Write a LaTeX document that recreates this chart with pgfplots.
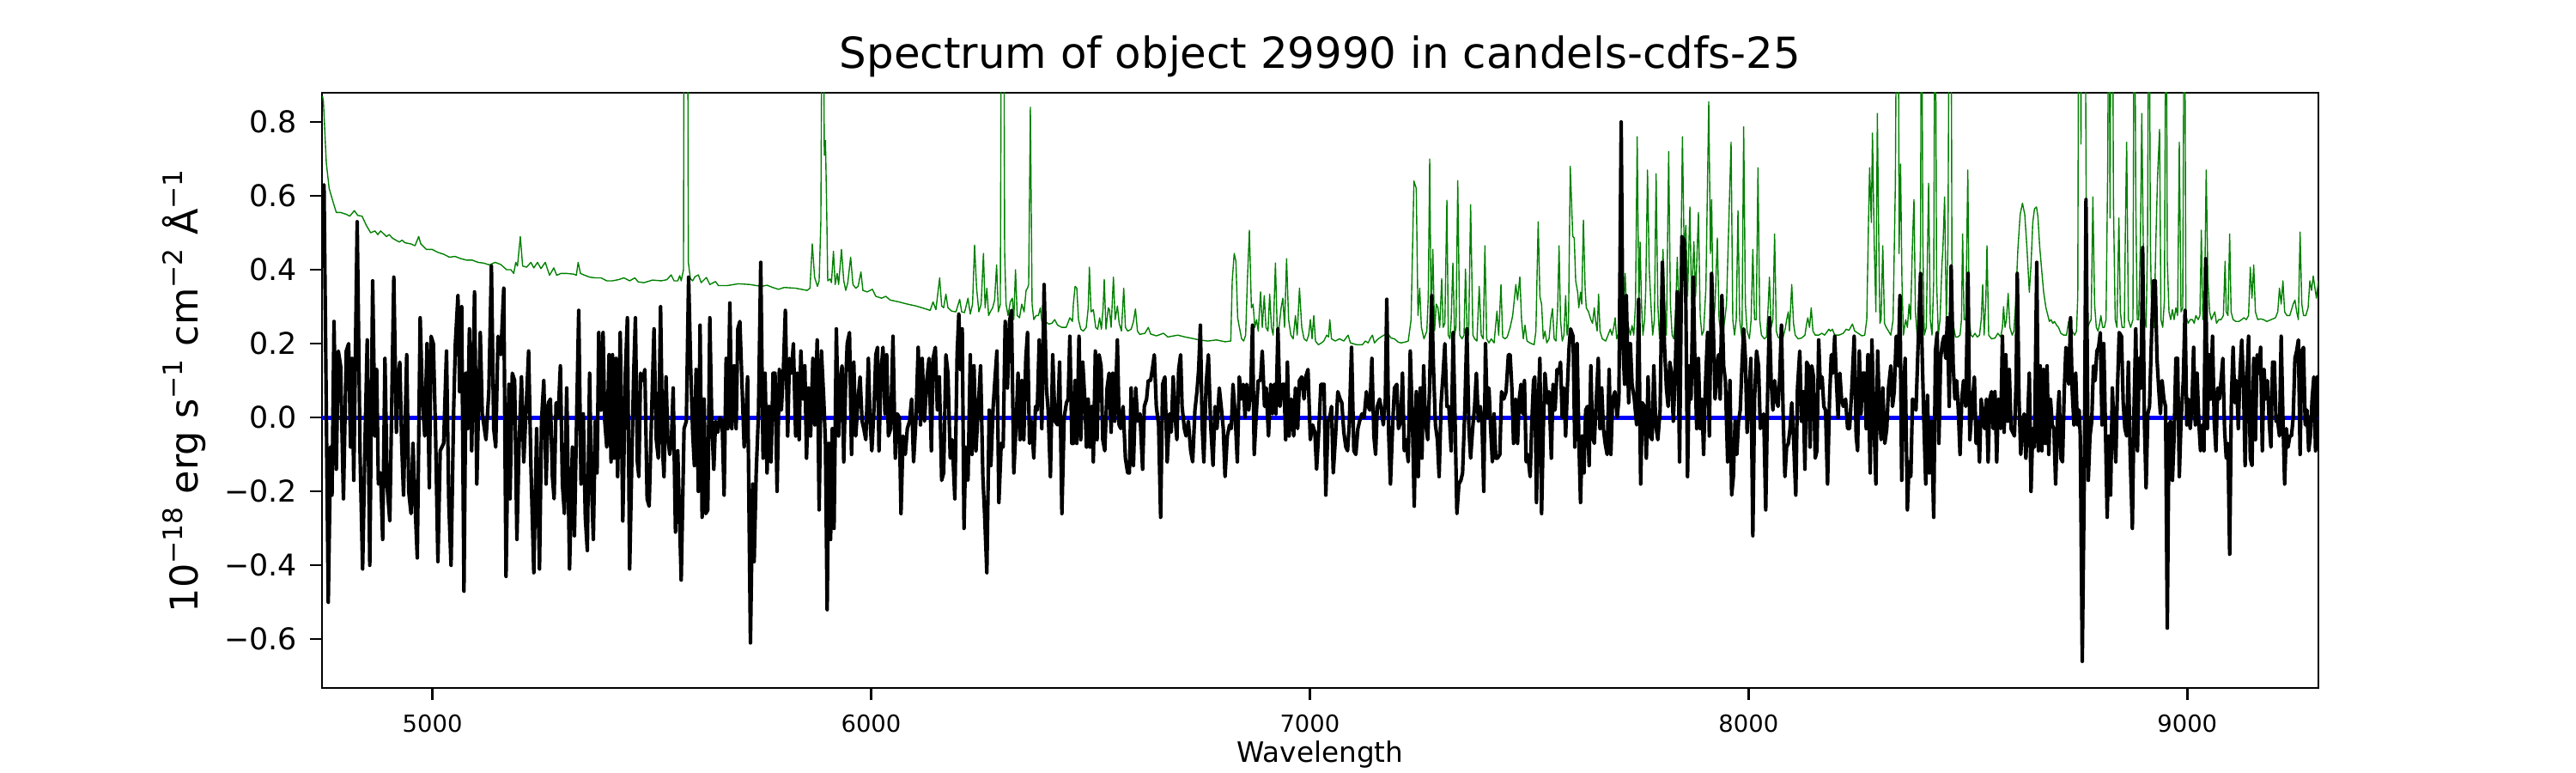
\documentclass[border=0pt]{standalone}
\usepackage{fontspec}
\setmainfont{DejaVu Sans}
\usepackage{pgfplots}
\usepackage{pgfplotstable}
\pgfplotsset{compat=1.18}
\definecolor{mplgreen}{RGB}{0,128,0}
\definecolor{mplblue}{RGB}{0,0,255}

\pgfplotstableread[row sep=\\]{
x y\\
4749.5 0.58\\ 4752.9 0.63\\ 4762.6 -0.50\\ 4767.9 -0.08\\ 4771.1 -0.21\\ 4775.7 0.26\\ 4780.9 -0.14\\ 4785.5 0.18\\ 4790.7 0.14\\ 4797.2 -0.22\\
4803.7 0.18\\ 4809.0 0.20\\ 4813.5 -0.08\\ 4816.8 0.16\\ 4820.7 -0.17\\ 4828.5 0.53\\ 4835.1 -0.10\\ 4840.9 -0.41\\ 4846.1 -0.08\\ 4851.4 0.21\\
4857.2 -0.40\\ 4863.8 0.37\\ 4869.0 -0.05\\ 4872.9 0.13\\ 4876.8 -0.18\\ 4882.0 -0.15\\ 4886.6 -0.33\\ 4891.8 0.16\\ 4897.0 -0.19\\ 4902.9 -0.28\\
4912.0 0.38\\ 4917.9 -0.04\\ 4921.2 0.10\\ 4925.7 0.15\\ 4929.7 -0.06\\ 4934.2 -0.21\\ 4941.4 0.17\\ 4946.0 -0.20\\ 4951.2 -0.26\\ 4955.7 -0.07\\
4960.3 -0.23\\ 4965.5 -0.38\\ 4972.1 0.27\\ 4977.3 0.05\\ 4982.5 -0.05\\ 4987.7 0.20\\ 4992.9 -0.19\\ 4996.9 0.22\\ 5002.1 0.20\\ 5007.3 -0.05\\
5012.5 -0.39\\ 5017.7 -0.09\\ 5025.6 -0.07\\ 5032.1 0.18\\ 5037.3 -0.23\\ 5042.5 -0.40\\ 5048.4 0.02\\ 5052.3 0.20\\ 5058.2 0.33\\ 5062.1 0.07\\
5066.7 0.30\\ 5071.9 -0.47\\ 5076.4 0.12\\ 5080.4 -0.03\\ 5084.3 0.24\\ 5089.5 -0.09\\ 5096.0 0.34\\ 5101.2 -0.18\\ 5105.1 0.03\\ 5109.1 0.23\\
5113.6 0.01\\ 5122.1 -0.06\\ 5128.6 0.07\\ 5134.5 0.41\\ 5139.7 -0.03\\ 5144.3 -0.08\\ 5149.5 0.22\\ 5156.0 0.17\\ 5162.6 0.35\\ 5167.8 -0.43\\
5174.3 0.09\\ 5176.9 -0.22\\ 5182.1 0.12\\ 5187.4 0.10\\ 5192.6 -0.33\\ 5197.1 -0.09\\ 5203.0 0.11\\ 5208.2 -0.12\\ 5213.4 0.02\\ 5219.3 0.18\\
5224.5 -0.13\\ 5231.1 -0.42\\ 5237.6 -0.03\\ 5244.1 -0.41\\ 5248.7 -0.01\\ 5253.9 0.10\\ 5259.1 -0.18\\ 5264.3 0.04\\ 5268.9 0.05\\ 5273.5 -0.16\\
5277.4 -0.22\\ 5281.9 0.04\\ 5286.5 0.00\\ 5291.7 0.14\\ 5296.3 -0.18\\ 5300.9 -0.26\\ 5306.1 0.08\\ 5312.6 -0.41\\ 5319.1 -0.08\\ 5323.7 -0.32\\
5328.9 0.01\\ 5333.5 0.29\\ 5338.7 -0.18\\ 5343.9 0.01\\ 5348.5 -0.27\\ 5353.1 -0.36\\ 5358.3 0.12\\ 5362.2 -0.16\\ 5366.8 -0.33\\ 5371.3 -0.01\\
5375.3 -0.15\\ 5379.2 0.23\\ 5384.4 0.02\\ 5389.0 0.23\\ 5392.9 -0.01\\ 5397.4 -0.08\\ 5402.7 0.17\\ 5407.2 -0.12\\ 5410.5 0.17\\ 5414.4 -0.11\\
5418.3 0.16\\ 5422.2 -0.16\\ 5428.1 0.23\\ 5434.0 -0.28\\ 5439.8 0.12\\ 5444.4 0.27\\ 5449.6 -0.41\\ 5454.8 -0.10\\ 5458.8 0.12\\ 5462.7 0.27\\
5467.2 -0.12\\ 5470.5 -0.16\\ 5474.4 0.12\\ 5479.6 0.10\\ 5484.2 0.13\\ 5489.4 -0.22\\ 5494.0 -0.24\\ 5499.2 -0.01\\ 5505.1 0.24\\ 5510.3 -0.06\\
5514.9 -0.11\\ 5520.1 0.30\\ 5524.7 -0.09\\ 5527.9 -0.16\\ 5532.5 0.11\\ 5536.4 -0.05\\ 5541.0 -0.10\\ 5544.9 -0.06\\ 5548.8 0.08\\ 5554.0 -0.31\\
5559.2 -0.09\\ 5567.1 -0.44\\ 5573.6 -0.03\\ 5578.8 -0.01\\ 5584.0 0.38\\ 5588.6 0.14\\ 5593.2 -0.04\\ 5597.1 -0.13\\ 5601.0 0.13\\ 5606.2 -0.20\\
5610.1 0.25\\ 5614.7 -0.27\\ 5619.3 0.05\\ 5623.2 -0.26\\ 5627.7 -0.25\\ 5632.3 0.27\\ 5636.9 -0.02\\ 5641.4 -0.14\\ 5645.3 -0.01\\ 5650.6 -0.04\\
5655.1 0.00\\ 5660.4 -0.01\\ 5664.9 -0.21\\ 5669.5 0.16\\ 5673.4 -0.03\\ 5678.0 0.31\\ 5682.5 -0.03\\ 5687.8 0.14\\ 5692.3 -0.03\\ 5696.2 0.24\\
5700.8 0.26\\ 5705.4 0.10\\ 5710.6 -0.08\\ 5714.5 0.00\\ 5718.4 0.11\\ 5724.9 -0.61\\ 5730.2 -0.18\\ 5733.4 -0.39\\ 5738.0 -0.15\\ 5743.2 0.01\\
5748.4 0.42\\ 5753.7 -0.11\\ 5758.2 0.12\\ 5762.8 -0.15\\ 5767.3 0.03\\ 5771.9 -0.12\\ 5776.5 0.12\\ 5781.0 0.12\\ 5785.6 -0.20\\ 5790.8 0.13\\
5795.4 0.02\\ 5800.0 0.13\\ 5804.5 0.29\\ 5809.8 -0.05\\ 5813.7 0.16\\ 5818.2 0.12\\ 5822.8 0.20\\ 5828.0 -0.05\\ 5831.9 0.12\\ 5835.9 -0.06\\
5839.8 0.18\\ 5844.3 0.05\\ 5848.9 0.14\\ 5852.8 -0.11\\ 5857.4 0.08\\ 5862.0 -0.05\\ 5867.2 0.16\\ 5871.7 -0.02\\ 5877.0 0.21\\ 5881.5 -0.25\\
5886.7 0.18\\ 5892.0 0.05\\ 5895.9 -0.07\\ 5899.8 -0.52\\ 5903.7 -0.07\\ 5907.6 -0.33\\ 5911.5 -0.03\\ 5915.5 -0.30\\ 5920.7 0.24\\ 5925.9 -0.05\\
5929.8 0.10\\ 5933.7 0.14\\ 5937.6 -0.12\\ 5941.6 0.08\\ 5945.5 0.20\\ 5950.7 0.23\\ 5955.3 -0.10\\ 5960.5 0.15\\ 5965.0 -0.05\\ 5970.3 0.05\\
5974.8 0.11\\ 5979.4 -0.01\\ 5983.3 -0.03\\ 5987.9 -0.06\\ 5993.7 0.16\\ 5997.7 -0.01\\ 6001.6 -0.09\\ 6006.8 0.03\\ 6010.7 0.17\\ 6014.6 0.19\\
6017.9 -0.09\\ 6022.4 0.12\\ 6027.0 0.19\\ 6031.6 0.01\\ 6035.5 0.17\\ 6039.4 -0.05\\ 6044.6 -0.03\\ 6049.8 0.22\\ 6055.1 -0.11\\ 6059.6 0.01\\
6064.2 0.00\\ 6068.1 -0.26\\ 6072.7 -0.05\\ 6077.9 -0.10\\ 6082.5 -0.03\\ 6087.7 -0.01\\ 6092.3 0.05\\ 6096.8 -0.12\\ 6102.0 -0.01\\ 6107.3 0.19\\
6112.5 -0.02\\ 6116.4 0.16\\ 6121.6 -0.01\\ 6126.8 0.10\\ 6132.0 0.16\\ 6137.3 -0.09\\ 6141.2 0.16\\ 6146.4 0.19\\ 6151.0 0.02\\ 6155.5 0.11\\
6160.8 -0.17\\ 6165.3 -0.15\\ 6170.5 0.17\\ 6175.1 0.12\\ 6180.3 -0.11\\ 6184.9 -0.06\\ 6190.8 -0.22\\ 6196.0 0.17\\ 6199.9 0.28\\ 6203.8 0.13\\
6207.7 0.24\\ 6211.7 -0.30\\ 6215.6 -0.08\\ 6220.8 -0.17\\ 6226.0 0.17\\ 6229.9 -0.10\\ 6234.5 0.14\\ 6239.0 -0.09\\ 6244.3 0.03\\ 6249.5 0.14\\
6254.7 -0.16\\ 6258.6 -0.26\\ 6263.8 -0.42\\ 6269.1 0.02\\ 6273.0 -0.13\\ 6278.2 0.03\\ 6282.1 0.10\\ 6286.7 0.18\\ 6291.2 -0.23\\ 6296.5 -0.07\\
6301.0 -0.08\\ 6305.6 0.26\\ 6310.8 0.08\\ 6315.4 0.26\\ 6319.9 0.29\\ 6325.2 -0.15\\ 6330.4 -0.02\\ 6334.9 0.12\\ 6339.5 -0.06\\ 6343.4 0.10\\
6348.0 -0.06\\ 6352.6 0.16\\ 6356.5 0.23\\ 6361.0 -0.07\\ 6365.6 -0.01\\ 6370.8 -0.11\\ 6374.7 0.03\\ 6378.7 0.02\\ 6383.2 0.21\\ 6389.1 -0.03\\
6394.3 0.36\\ 6399.6 0.08\\ 6403.5 0.02\\ 6408.7 -0.16\\ 6413.9 0.17\\ 6419.1 -0.01\\ 6425.0 -0.02\\ 6429.6 0.15\\ 6434.8 -0.26\\ 6440.0 0.00\\
6445.2 0.04\\ 6449.1 0.05\\ 6453.0 0.22\\ 6457.6 -0.07\\ 6460.9 -0.07\\ 6464.8 0.10\\ 6468.7 -0.07\\ 6473.9 0.22\\ 6477.8 -0.06\\ 6482.4 0.15\\
6487.0 0.05\\ 6490.9 -0.08\\ 6494.8 0.05\\ 6498.7 -0.08\\ 6503.3 0.03\\ 6506.5 -0.12\\ 6511.1 0.18\\ 6515.0 -0.06\\ 6519.6 0.17\\ 6524.2 0.14\\
6528.1 -0.06\\ 6532.6 -0.09\\ 6537.9 0.08\\ 6542.4 0.12\\ 6547.0 -0.04\\ 6550.9 0.12\\ 6555.5 -0.01\\ 6561.3 0.21\\ 6565.3 -0.02\\ 6569.2 -0.03\\
6574.4 0.03\\ 6579.6 -0.11\\ 6584.8 -0.15\\ 6588.7 -0.15\\ 6592.7 0.08\\ 6597.9 -0.13\\ 6603.1 0.08\\ 6607.7 -0.01\\ 6612.9 0.01\\ 6618.8 -0.14\\
6622.7 0.03\\ 6627.9 0.05\\ 6631.8 0.10\\ 6637.0 0.10\\ 6641.0 0.13\\ 6645.5 0.17\\ 6650.1 0.03\\ 6655.3 -0.02\\ 6659.9 -0.27\\ 6664.4 0.09\\
6669.6 0.11\\ 6674.9 -0.12\\ 6680.1 0.01\\ 6684.0 -0.04\\ 6688.6 0.11\\ 6693.1 0.00\\ 6697.0 -0.06\\ 6701.0 0.13\\ 6705.5 0.17\\ 6708.8 0.03\\
6714.0 -0.03\\ 6717.9 -0.05\\ 6723.1 -0.01\\ 6728.4 -0.09\\ 6732.9 -0.12\\ 6738.1 0.02\\ 6742.7 0.07\\ 6746.6 0.13\\ 6750.5 0.25\\ 6754.5 -0.02\\
6758.4 -0.12\\ 6763.6 0.09\\ 6768.8 0.17\\ 6774.0 -0.02\\ 6779.3 -0.13\\ 6783.8 0.03\\ 6788.4 -0.03\\ 6793.6 0.08\\ 6798.8 0.02\\ 6802.7 -0.03\\
6806.7 -0.16\\ 6811.9 -0.05\\ 6817.1 -0.02\\ 6821.0 -0.03\\ 6824.9 0.09\\ 6830.1 0.00\\ 6834.7 -0.12\\ 6839.3 0.11\\ 6844.5 0.05\\ 6848.4 0.09\\
6852.3 0.00\\ 6856.2 0.09\\ 6860.8 0.02\\ 6865.4 0.08\\ 6869.3 0.25\\ 6873.2 -0.10\\ 6878.4 0.02\\ 6882.3 0.10\\ 6887.6 0.10\\ 6891.5 0.18\\
6896.7 0.03\\ 6900.6 0.08\\ 6905.8 -0.05\\ 6911.0 0.09\\ 6915.0 0.01\\ 6918.9 0.09\\ 6922.8 0.01\\ 6927.3 0.24\\ 6931.9 0.03\\ 6937.1 0.09\\
6941.0 0.09\\ 6945.0 -0.06\\ 6948.9 0.15\\ 6952.8 -0.05\\ 6958.0 0.05\\ 6963.2 -0.05\\ 6967.1 0.08\\ 6972.4 -0.03\\ 6976.3 0.10\\ 6981.5 0.11\\
6986.7 0.05\\ 6990.6 0.11\\ 6995.8 0.13\\ 7001.1 -0.06\\ 7006.3 -0.02\\ 7011.5 -0.04\\ 7015.4 -0.14\\ 7020.6 -0.03\\ 7025.2 0.09\\ 7028.6 0.09\\
7032.5 0.09\\ 7036.4 -0.21\\ 7041.6 -0.01\\ 7045.5 0.00\\ 7049.4 0.03\\ 7053.4 -0.15\\ 7058.6 -0.05\\ 7063.8 0.07\\ 7069.0 0.05\\ 7072.9 0.04\\
7077.5 -0.04\\ 7082.1 -0.08\\ 7086.0 -0.09\\ 7089.9 -0.02\\ 7095.1 0.19\\ 7100.3 -0.09\\ 7104.9 -0.10\\ 7109.5 -0.03\\ 7113.4 -0.01\\ 7118.6 0.01\\
7123.8 0.00\\ 7129.0 0.07\\ 7133.0 0.03\\ 7136.9 0.02\\ 7141.4 0.16\\ 7146.0 -0.05\\ 7149.9 -0.10\\ 7153.8 0.03\\ 7159.1 0.05\\ 7163.0 0.02\\
7167.5 -0.02\\ 7172.1 0.05\\ 7175.4 0.32\\ 7179.9 -0.05\\ 7183.8 -0.18\\ 7189.1 -0.01\\ 7193.0 0.08\\ 7198.2 0.09\\ 7202.1 -0.03\\ 7207.3 -0.01\\
7211.2 0.12\\ 7215.2 -0.09\\ 7219.1 -0.06\\ 7224.3 -0.12\\ 7228.9 0.18\\ 7234.1 -0.02\\ 7238.0 -0.24\\ 7242.6 0.07\\ 7247.1 -0.16\\ 7251.7 0.08\\
7255.6 -0.11\\ 7259.5 0.14\\ 7263.4 -0.01\\ 7268.7 -0.06\\ 7272.6 0.07\\ 7277.8 0.33\\ 7281.7 0.14\\ 7286.3 -0.02\\ 7290.8 -0.06\\ 7294.7 -0.16\\
7299.3 0.04\\ 7303.9 0.12\\ 7307.8 0.20\\ 7312.4 0.03\\ 7316.9 0.03\\ 7322.2 -0.09\\ 7326.7 0.23\\ 7330.6 0.02\\ 7335.2 -0.26\\ 7339.8 -0.18\\
7344.3 -0.17\\ 7348.2 -0.15\\ 7353.5 0.03\\ 7358.0 0.24\\ 7362.6 -0.03\\ 7366.5 -0.11\\ 7371.1 -0.03\\ 7375.6 0.03\\ 7379.6 0.12\\ 7384.1 -0.01\\
7388.7 0.03\\ 7392.6 -0.02\\ 7396.5 -0.20\\ 7400.4 0.20\\ 7404.4 0.00\\ 7408.3 0.08\\ 7412.2 -0.03\\ 7416.1 -0.12\\ 7420.0 0.01\\ 7423.9 -0.11\\
7427.8 -0.11\\ 7433.1 -0.10\\ 7437.0 0.07\\ 7442.2 0.05\\ 7447.4 0.07\\ 7452.6 0.17\\ 7456.5 0.17\\ 7460.5 0.08\\ 7464.4 -0.07\\ 7468.9 0.05\\
7473.5 -0.07\\ 7477.4 0.05\\ 7481.3 0.09\\ 7485.3 0.01\\ 7489.2 0.10\\ 7493.1 -0.12\\ 7497.0 -0.10\\ 7502.2 -0.16\\ 7506.1 -0.01\\ 7510.0 0.10\\
7512.7 0.11\\ 7516.6 -0.23\\ 7521.1 0.05\\ 7524.4 0.16\\ 7528.3 -0.26\\ 7532.2 -0.03\\ 7536.1 0.12\\ 7540.7 0.04\\ 7545.3 0.07\\ 7550.5 -0.11\\
7554.4 0.09\\ 7559.0 0.02\\ 7563.5 0.13\\ 7567.5 0.12\\ 7571.4 0.15\\ 7575.3 0.00\\ 7579.2 0.08\\ 7583.1 -0.05\\ 7587.0 0.08\\ 7591.0 0.19\\
7594.2 0.24\\ 7600.1 0.22\\ 7604.0 -0.08\\ 7609.2 0.20\\ 7613.1 -0.05\\ 7617.0 -0.23\\ 7621.0 -0.05\\ 7624.9 -0.15\\ 7628.8 0.02\\ 7632.7 0.03\\
7636.6 -0.13\\ 7640.5 0.14\\ 7644.4 -0.05\\ 7648.4 -0.07\\ 7652.3 0.03\\ 7657.5 0.16\\ 7661.4 -0.03\\ 7665.3 0.08\\ 7669.2 -0.03\\ 7673.2 -0.07\\
7677.7 -0.10\\ 7682.3 0.13\\ 7686.2 -0.10\\ 7690.1 0.05\\ 7695.3 0.07\\ 7700.6 0.00\\ 7704.5 0.05\\ 7709.7 0.80\\ 7713.6 0.20\\ 7717.5 0.09\\
7721.4 0.33\\ 7726.7 0.04\\ 7730.6 0.20\\ 7734.5 0.09\\ 7739.7 0.05\\ 7744.9 -0.02\\ 7749.5 0.32\\ 7754.1 -0.18\\ 7758.0 0.04\\ 7762.5 0.03\\
7767.1 -0.11\\ 7771.0 0.11\\ 7774.9 -0.05\\ 7780.1 -0.06\\ 7784.1 0.14\\ 7788.6 -0.02\\ 7793.2 -0.06\\ 7798.4 0.02\\ 7803.6 0.42\\ 7808.2 0.20\\
7812.8 0.08\\ 7816.7 0.03\\ 7820.6 0.15\\ 7824.5 0.12\\ 7828.4 -0.01\\ 7832.3 0.10\\ 7837.6 0.34\\ 7842.8 -0.12\\ 7848.0 0.49\\ 7853.2 0.48\\
7857.1 0.31\\ 7861.0 -0.16\\ 7865.0 0.14\\ 7868.9 0.05\\ 7874.1 0.38\\ 7878.0 0.13\\ 7881.9 -0.03\\ 7885.8 0.16\\ 7889.8 -0.03\\ 7893.7 0.05\\
7897.6 -0.10\\ 7901.5 0.08\\ 7906.7 0.23\\ 7910.6 -0.05\\ 7915.8 0.39\\ 7919.8 0.24\\ 7923.7 0.05\\ 7927.6 0.12\\ 7931.5 0.17\\ 7935.4 0.05\\
7939.3 0.33\\ 7943.2 0.14\\ 7947.2 0.10\\ 7952.4 -0.12\\ 7957.6 0.10\\ 7961.5 -0.21\\ 7965.4 -0.16\\ 7969.3 -0.01\\ 7973.3 -0.10\\ 7977.2 -0.01\\
7981.1 0.02\\ 7985.0 0.14\\ 7988.9 0.24\\ 7992.8 0.16\\ 7996.7 -0.04\\ 8000.7 0.05\\ 8005.2 0.16\\ 8009.8 -0.32\\ 8013.7 0.05\\ 8018.3 0.18\\
8022.8 0.14\\ 8026.8 -0.03\\ 8030.7 -0.01\\ 8034.6 0.01\\ 8039.2 -0.25\\ 8043.7 0.08\\ 8047.6 0.27\\ 8051.5 0.10\\ 8055.5 0.02\\ 8059.4 0.10\\
8063.3 0.05\\ 8067.2 0.03\\ 8071.1 0.11\\ 8075.0 0.25\\ 8079.0 0.00\\ 8082.9 -0.16\\ 8086.8 -0.08\\ 8090.7 -0.07\\ 8094.6 -0.03\\ 8098.5 0.04\\
8102.4 -0.05\\ 8107.7 -0.21\\ 8111.6 0.08\\ 8116.8 0.18\\ 8120.7 -0.01\\ 8124.6 0.07\\ 8128.5 -0.14\\ 8132.5 0.15\\ 8136.4 0.14\\ 8140.3 -0.08\\
8144.2 0.14\\ 8148.1 0.11\\ 8152.0 -0.11\\ 8155.9 -0.09\\ 8159.9 0.21\\ 8163.8 0.08\\ 8167.7 0.11\\ 8171.6 0.03\\ 8175.5 0.02\\ 8180.1 -0.18\\
8184.6 0.05\\ 8188.6 0.17\\ 8192.5 0.12\\ 8196.4 0.22\\ 8200.3 0.10\\ 8204.2 0.00\\ 8208.1 0.12\\ 8212.0 0.05\\ 8216.0 0.03\\ 8221.2 0.05\\
8225.8 -0.03\\ 8230.3 -0.03\\ 8235.5 0.08\\ 8240.8 0.22\\ 8245.3 -0.05\\ 8248.6 -0.09\\ 8252.5 0.18\\ 8256.4 0.01\\ 8260.3 0.12\\ 8264.9 0.12\\
8268.2 -0.03\\ 8272.1 0.17\\ 8277.3 -0.15\\ 8281.2 0.21\\ 8286.4 -0.03\\ 8290.3 -0.18\\ 8294.3 0.18\\ 8298.2 0.02\\ 8302.1 -0.06\\ 8306.0 0.08\\
8310.6 -0.07\\ 8315.1 -0.03\\ 8319.0 0.08\\ 8324.3 0.14\\ 8328.2 0.03\\ 8332.1 0.07\\ 8336.7 0.22\\ 8341.2 0.14\\ 8345.1 0.33\\ 8349.1 -0.17\\
8353.0 0.05\\ 8356.9 0.16\\ 8362.1 -0.25\\ 8366.0 -0.12\\ 8369.9 -0.16\\ 8373.8 0.05\\ 8377.8 0.04\\ 8381.7 0.02\\ 8386.9 0.21\\ 8392.1 0.39\\
8396.0 0.16\\ 8399.9 -0.02\\ 8403.9 -0.18\\ 8407.8 0.06\\ 8411.7 -0.15\\ 8416.9 -0.01\\ 8422.1 -0.27\\ 8426.0 0.18\\ 8430.0 0.23\\ 8433.9 -0.07\\
8437.8 0.16\\ 8441.7 0.20\\ 8445.6 0.22\\ 8449.5 0.16\\ 8453.4 0.27\\ 8457.4 0.03\\ 8461.9 0.41\\ 8466.5 0.14\\ 8470.4 0.05\\ 8474.3 0.10\\
8478.2 0.02\\ 8482.1 -0.10\\ 8486.1 0.05\\ 8490.0 0.10\\ 8495.2 0.03\\ 8500.4 0.39\\ 8504.3 -0.06\\ 8509.5 0.03\\ 8514.8 0.11\\ 8518.7 -0.07\\
8522.6 -0.01\\ 8526.5 -0.12\\ 8530.4 0.05\\ 8534.3 0.00\\ 8538.2 -0.03\\ 8542.2 0.05\\ 8546.1 -0.12\\ 8550.0 0.05\\ 8553.9 0.07\\ 8557.8 -0.03\\
8561.7 0.07\\ 8565.7 -0.12\\ 8569.6 0.05\\ 8574.8 -0.03\\ 8578.7 0.22\\ 8582.6 -0.04\\ 8586.5 0.17\\ 8590.4 -0.01\\ 8594.4 0.13\\ 8598.3 -0.03\\
8602.2 -0.04\\ 8606.1 -0.05\\ 8610.0 0.10\\ 8612.6 0.39\\ 8616.5 0.05\\ 8620.5 -0.10\\ 8624.4 -0.02\\ 8628.3 0.01\\ 8632.2 -0.11\\ 8636.1 -0.01\\
8640.0 0.12\\ 8643.9 -0.20\\ 8647.9 -0.03\\ 8651.8 -0.08\\ 8657.0 0.42\\ 8660.9 -0.09\\ 8664.8 0.14\\ 8668.7 -0.09\\ 8672.6 0.13\\ 8676.6 -0.07\\
8680.5 0.14\\ 8684.4 -0.10\\ 8688.3 0.05\\ 8692.2 -0.02\\ 8696.1 -0.03\\ 8700.0 -0.18\\ 8704.0 -0.01\\ 8707.9 0.07\\ 8711.8 -0.11\\ 8715.7 -0.12\\
8719.6 0.07\\ 8723.5 0.19\\ 8728.1 0.11\\ 8730.1 0.09\\ 8734.0 0.27\\ 8737.9 0.07\\ 8741.8 -0.02\\ 8745.7 0.12\\ 8749.6 -0.02\\ 8753.6 0.02\\
8756.2 -0.05\\ 8760.7 -0.66\\ 8765.3 -0.16\\ 8769.2 0.59\\ 8774.4 -0.17\\ 8778.3 -0.05\\ 8782.3 -0.01\\ 8786.2 0.14\\ 8790.1 0.10\\ 8794.0 0.18\\
8797.9 0.19\\ 8801.8 0.23\\ 8805.7 -0.02\\ 8809.7 0.20\\ 8813.6 -0.03\\ 8817.5 -0.27\\ 8821.4 -0.05\\ 8825.3 -0.21\\ 8829.2 0.08\\ 8833.1 -0.03\\
8837.1 -0.12\\ 8841.0 0.08\\ 8844.9 0.23\\ 8850.1 0.22\\ 8854.0 0.04\\ 8857.9 -0.03\\ 8861.9 -0.05\\ 8865.8 0.15\\ 8869.7 -0.09\\ 8874.9 -0.30\\
8878.8 0.03\\ 8882.7 0.24\\ 8886.6 -0.09\\ 8890.6 0.16\\ 8894.5 0.08\\ 8898.4 0.46\\ 8902.3 -0.01\\ 8906.2 -0.19\\ 8910.1 0.01\\ 8914.0 0.03\\
8919.3 0.25\\ 8923.2 0.37\\ 8927.1 0.37\\ 8931.0 0.16\\ 8934.9 0.08\\ 8938.8 0.01\\ 8942.7 0.10\\ 8946.7 0.05\\ 8950.6 0.03\\ 8954.5 -0.57\\
8958.4 -0.02\\ 8962.3 -0.01\\ 8966.2 -0.17\\ 8970.1 -0.05\\ 8974.1 0.16\\ 8978.0 0.16\\ 8981.9 -0.16\\ 8985.8 -0.01\\ 8991.0 0.10\\ 8995.0 0.29\\
8998.9 -0.02\\ 9002.8 0.05\\ 9006.7 -0.03\\ 9010.6 0.03\\ 9014.5 0.19\\ 9018.4 -0.02\\ 9022.4 0.12\\ 9026.3 -0.01\\ 9030.2 -0.09\\ 9034.1 -0.02\\
9038.0 -0.09\\ 9041.9 0.43\\ 9045.8 -0.03\\ 9049.8 0.17\\ 9053.7 0.05\\ 9057.6 0.22\\ 9061.5 -0.01\\ 9065.4 -0.09\\ 9069.3 0.08\\ 9073.2 0.05\\
9077.1 0.10\\ 9081.1 0.16\\ 9085.0 -0.03\\ 9088.9 -0.11\\ 9092.8 -0.07\\ 9096.7 -0.37\\ 9100.6 0.05\\ 9104.5 0.19\\ 9108.5 0.04\\ 9112.4 0.10\\
9116.3 -0.03\\ 9120.2 0.12\\ 9124.1 0.21\\ 9128.0 0.10\\ 9131.9 -0.13\\ 9135.9 0.10\\ 9139.8 0.22\\ 9143.7 -0.11\\ 9147.6 -0.13\\ 9151.5 0.16\\
9155.4 -0.06\\ 9159.3 0.17\\ 9163.3 0.12\\ 9167.2 0.19\\ 9171.1 -0.09\\ 9175.0 0.13\\ 9178.9 0.05\\ 9182.8 0.10\\ 9186.7 -0.01\\ 9190.7 -0.08\\
9194.6 0.15\\ 9198.5 0.15\\ 9202.4 -0.01\\ 9206.3 -0.01\\ 9210.2 -0.05\\ 9214.1 0.22\\ 9218.1 0.00\\ 9222.0 -0.18\\ 9225.9 -0.03\\ 9229.8 -0.08\\
9233.7 -0.05\\ 9237.6 -0.05\\ 9241.5 0.00\\ 9245.5 0.16\\ 9249.4 0.18\\ 9253.3 0.21\\ 9257.2 -0.10\\ 9261.1 0.18\\ 9265.0 0.19\\ 9268.9 -0.02\\
9272.9 0.02\\ 9276.8 -0.09\\ 9280.7 -0.05\\ 9284.6 0.05\\ 9288.5 0.11\\ 9292.4 -0.09\\ 9295.7 0.11\\ 9298.8 0.08\\
}\fluxtab

\pgfplotstableread[row sep=\\]{
x y\\
4749.5 0.87\\ 4751.5 0.855\\ 4758.1 0.69\\ 4764.6 0.62\\ 4774.4 0.58\\ 4780.9 0.555\\ 4790.7 0.555\\ 4803.7 0.55\\ 4811.6 0.545\\ 4822.0 0.56\\
4829.8 0.547\\ 4839.6 0.545\\ 4849.4 0.52\\ 4859.2 0.50\\ 4869.0 0.505\\ 4875.5 0.495\\ 4882.0 0.505\\ 4895.1 0.49\\ 4901.6 0.495\\ 4909.4 0.485\\
4924.4 0.475\\ 4931.0 0.48\\ 4937.5 0.473\\ 4950.5 0.47\\ 4960.3 0.465\\ 4968.8 0.49\\ 4973.4 0.47\\ 4986.4 0.455\\ 4999.5 0.455\\ 5012.5 0.447\\
5025.6 0.442\\ 5038.6 0.434\\ 5051.7 0.436\\ 5064.7 0.43\\ 5077.8 0.426\\ 5090.8 0.426\\ 5103.9 0.42\\ 5116.9 0.418\\ 5130.0 0.413\\ 5143.0 0.42\\
5156.0 0.414\\ 5169.1 0.40\\ 5178.9 0.40\\ 5185.4 0.39\\ 5190.0 0.42\\ 5193.9 0.41\\ 5200.4 0.49\\ 5205.6 0.41\\ 5214.8 0.407\\ 5224.5 0.42\\
5231.1 0.405\\ 5239.5 0.42\\ 5247.4 0.403\\ 5257.2 0.42\\ 5267.0 0.385\\ 5276.7 0.405\\ 5283.3 0.385\\ 5293.0 0.39\\ 5306.1 0.39\\ 5322.4 0.388\\
5328.0 0.385\\ 5332.2 0.42\\ 5337.4 0.39\\ 5345.2 0.386\\ 5358.3 0.38\\ 5371.3 0.378\\ 5384.4 0.378\\ 5397.4 0.37\\ 5410.5 0.37\\ 5423.5 0.373\\
5436.6 0.378\\ 5449.6 0.37\\ 5461.4 0.378\\ 5469.2 0.367\\ 5482.2 0.365\\ 5501.8 0.372\\ 5521.4 0.37\\ 5534.4 0.373\\ 5544.2 0.386\\ 5550.8 0.37\\
5559.2 0.37\\ 5563.8 0.384\\ 5567.1 0.37\\ 5572.3 0.40\\ 5574.9 2.0\\ 5580.1 2.0\\ 5583.4 0.42\\ 5587.9 0.376\\ 5593.2 0.37\\ 5598.4 0.381\\
5606.2 0.386\\ 5612.7 0.365\\ 5624.5 0.379\\ 5632.3 0.36\\ 5645.3 0.368\\ 5651.9 0.357\\ 5671.4 0.357\\ 5697.5 0.362\\ 5723.6 0.36\\ 5749.7 0.355\\
5762.8 0.358\\ 5775.8 0.352\\ 5788.9 0.347\\ 5801.9 0.352\\ 5828.0 0.35\\ 5854.1 0.344\\ 5860.6 0.35\\ 5865.9 0.47\\ 5871.1 0.38\\ 5877.6 0.355\\
5881.5 0.37\\ 5885.4 0.53\\ 5888.7 1.3\\ 5890.7 1.3\\ 5893.3 0.71\\ 5895.9 0.75\\ 5898.5 0.58\\ 5901.1 0.37\\ 5906.3 0.375\\ 5909.6 0.365\\
5914.1 0.45\\ 5918.1 0.36\\ 5922.6 0.39\\ 5925.9 0.36\\ 5932.4 0.455\\ 5937.6 0.37\\ 5942.2 0.344\\ 5946.8 0.365\\ 5953.3 0.434\\ 5958.5 0.36\\
5965.0 0.35\\ 5970.3 0.355\\ 5976.8 0.394\\ 5981.3 0.344\\ 5991.1 0.34\\ 6002.9 0.347\\ 6010.7 0.328\\ 6023.8 0.323\\ 6033.5 0.328\\ 6043.3 0.318\\
6062.9 0.313\\ 6082.5 0.307\\ 6102.0 0.302\\ 6121.6 0.295\\ 6134.7 0.29\\ 6141.2 0.313\\ 6147.7 0.292\\ 6156.2 0.378\\ 6160.8 0.302\\ 6165.3 0.297\\
6170.5 0.334\\ 6175.1 0.297\\ 6183.6 0.288\\ 6193.4 0.286\\ 6201.9 0.32\\ 6206.4 0.286\\ 6212.9 0.284\\ 6220.8 0.323\\ 6226.0 0.28\\ 6231.2 0.307\\
6235.8 0.467\\ 6240.4 0.35\\ 6245.6 0.286\\ 6250.8 0.307\\ 6256.0 0.444\\ 6259.9 0.297\\ 6263.8 0.35\\ 6267.8 0.276\\ 6271.7 0.286\\ 6276.9 0.297\\
6281.5 0.318\\ 6286.0 0.413\\ 6290.0 0.286\\ 6294.5 0.307\\ 6297.8 1.5\\ 6301.7 1.5\\ 6304.3 0.45\\ 6307.5 0.307\\ 6312.1 0.276\\ 6317.3 0.313\\
6321.9 0.323\\ 6325.2 0.265\\ 6329.1 0.40\\ 6333.0 0.276\\ 6338.2 0.27\\ 6343.4 0.307\\ 6348.7 0.286\\ 6353.2 0.344\\ 6356.5 0.35\\ 6359.1 0.36\\
6363.0 0.84\\ 6366.9 0.307\\ 6370.8 0.265\\ 6376.1 0.276\\ 6381.3 0.276\\ 6385.8 0.297\\ 6389.1 0.26\\ 6395.6 0.26\\ 6405.4 0.253\\ 6411.9 0.255\\
6418.5 0.265\\ 6425.0 0.25\\ 6434.8 0.244\\ 6444.6 0.244\\ 6453.0 0.27\\ 6458.9 0.26\\ 6461.0 0.307\\ 6464.9 0.355\\ 6468.8 0.35\\ 6472.7 0.265\\
6477.9 0.239\\ 6483.8 0.234\\ 6490.3 0.244\\ 6494.9 0.297\\ 6497.5 0.407\\ 6501.4 0.286\\ 6506.6 0.292\\ 6511.9 0.244\\ 6516.4 0.239\\ 6521.0 0.27\\
6524.9 0.239\\ 6528.8 0.297\\ 6531.4 0.374\\ 6535.3 0.239\\ 6540.6 0.297\\ 6543.2 0.292\\ 6547.1 0.244\\ 6552.3 0.38\\ 6556.2 0.265\\ 6561.4 0.302\\
6565.4 0.255\\ 6570.6 0.234\\ 6575.8 0.35\\ 6579.7 0.244\\ 6584.9 0.234\\ 6592.8 0.239\\ 6598.0 0.26\\ 6602.5 0.294\\ 6607.1 0.234\\ 6612.3 0.225\\
6624.1 0.228\\ 6631.9 0.244\\ 6637.1 0.226\\ 6650.2 0.221\\ 6666.5 0.228\\ 6676.3 0.218\\ 6699.1 0.223\\ 6715.4 0.218\\ 6728.5 0.215\\ 6748.0 0.21\\
6767.6 0.207\\ 6787.2 0.21\\ 6806.7 0.205\\ 6819.8 0.207\\ 6823.1 0.37\\ 6827.6 0.444\\ 6831.5 0.423\\ 6835.5 0.27\\ 6839.4 0.244\\ 6844.6 0.213\\
6849.2 0.207\\ 6853.7 0.223\\ 6857.6 0.37\\ 6862.2 0.507\\ 6866.8 0.297\\ 6870.7 0.307\\ 6874.6 0.244\\ 6878.5 0.265\\ 6882.4 0.234\\ 6887.7 0.34\\
6891.6 0.244\\ 6896.1 0.33\\ 6900.0 0.244\\ 6904.6 0.234\\ 6908.5 0.334\\ 6912.5 0.244\\ 6916.4 0.223\\ 6921.6 0.418\\ 6925.5 0.244\\ 6929.4 0.239\\
6934.6 0.297\\ 6938.5 0.323\\ 6942.4 0.244\\ 6947.0 0.43\\ 6951.6 0.265\\ 6956.8 0.223\\ 6962.0 0.213\\ 6967.2 0.276\\ 6971.2 0.223\\ 6976.4 0.35\\
6981.6 0.244\\ 6986.8 0.213\\ 6992.7 0.207\\ 6997.3 0.223\\ 7001.2 0.265\\ 7005.1 0.213\\ 7009.0 0.276\\ 7012.9 0.207\\ 7019.4 0.197\\ 7026.6 0.202\\
7031.8 0.207\\ 7038.4 0.223\\ 7042.9 0.218\\ 7045.5 0.265\\ 7049.4 0.213\\ 7057.9 0.207\\ 7067.7 0.213\\ 7077.5 0.207\\ 7084.0 0.218\\ 7087.3 0.223\\
7092.5 0.202\\ 7106.9 0.197\\ 7119.9 0.197\\ 7126.4 0.207\\ 7133.0 0.202\\ 7138.2 0.215\\ 7142.7 0.223\\ 7147.3 0.202\\ 7155.8 0.213\\ 7168.8 0.223\\
7178.6 0.226\\ 7185.2 0.215\\ 7193.0 0.213\\ 7201.5 0.204\\ 7208.0 0.202\\ 7216.5 0.204\\ 7224.3 0.207\\ 7230.8 0.265\\ 7237.3 0.64\\ 7242.6 0.62\\
7246.5 0.276\\ 7250.4 0.35\\ 7254.3 0.244\\ 7260.2 0.213\\ 7266.7 0.234\\ 7270.0 0.328\\ 7273.2 0.70\\ 7276.5 0.265\\ 7280.4 0.455\\ 7284.3 0.234\\
7288.2 0.307\\ 7292.1 0.297\\ 7296.1 0.244\\ 7300.6 0.376\\ 7303.9 0.244\\ 7307.8 0.255\\ 7312.4 0.588\\ 7315.6 0.223\\ 7319.5 0.213\\ 7322.2 0.265\\
7326.1 0.418\\ 7330.0 0.223\\ 7333.2 0.244\\ 7337.2 0.641\\ 7341.7 0.223\\ 7346.9 0.213\\ 7351.5 0.223\\ 7354.8 0.402\\ 7358.7 0.223\\ 7362.0 0.223\\
7366.5 0.576\\ 7371.7 0.223\\ 7375.7 0.213\\ 7380.9 0.207\\ 7386.1 0.355\\ 7390.7 0.223\\ 7395.2 0.213\\ 7399.1 0.465\\ 7403.1 0.213\\ 7408.3 0.202\\
7413.5 0.213\\ 7420.0 0.202\\ 7426.5 0.288\\ 7430.5 0.223\\ 7435.7 0.36\\ 7439.6 0.218\\ 7444.8 0.213\\ 7450.0 0.218\\ 7456.6 0.244\\ 7462.4 0.276\\
7469.6 0.36\\ 7473.5 0.318\\ 7478.7 0.381\\ 7482.6 0.265\\ 7486.6 0.213\\ 7490.5 0.25\\ 7495.0 0.207\\ 7501.6 0.202\\ 7511.3 0.197\\ 7515.3 0.234\\
7520.5 0.53\\ 7524.4 0.328\\ 7528.3 0.307\\ 7532.2 0.213\\ 7536.1 0.234\\ 7540.1 0.202\\ 7545.3 0.213\\ 7549.2 0.265\\ 7553.1 0.295\\ 7557.0 0.213\\
7561.0 0.207\\ 7564.9 0.297\\ 7568.1 0.465\\ 7571.4 0.265\\ 7575.3 0.207\\ 7579.2 0.223\\ 7583.1 0.33\\ 7586.4 0.223\\ 7589.6 0.255\\ 7593.6 0.68\\
7599.4 0.49\\ 7602.7 0.486\\ 7606.0 0.37\\ 7610.5 0.339\\ 7613.1 0.297\\ 7617.0 0.339\\ 7619.7 0.307\\ 7623.6 0.534\\ 7627.5 0.35\\ 7630.1 0.297\\
7635.3 0.286\\ 7640.5 0.265\\ 7644.4 0.255\\ 7648.4 0.297\\ 7651.0 0.265\\ 7654.9 0.234\\ 7658.2 0.334\\ 7661.4 0.234\\ 7666.6 0.213\\ 7674.5 0.207\\
7679.7 0.223\\ 7684.9 0.239\\ 7688.8 0.223\\ 7692.7 0.244\\ 7696.0 0.27\\ 7699.3 0.213\\ 7703.8 0.228\\ 7707.1 0.265\\ 7711.0 0.223\\ 7714.9 0.286\\
7718.8 0.39\\ 7722.7 0.265\\ 7726.7 0.244\\ 7730.6 0.223\\ 7734.5 0.249\\ 7738.4 0.223\\ 7742.3 0.307\\ 7746.2 0.76\\ 7750.1 0.286\\ 7752.8 0.475\\
7756.0 0.307\\ 7759.3 0.223\\ 7763.2 0.265\\ 7765.8 0.35\\ 7769.7 0.67\\ 7773.6 0.402\\ 7777.5 0.307\\ 7781.5 0.223\\ 7785.4 0.265\\ 7789.3 0.66\\
7793.2 0.307\\ 7797.1 0.213\\ 7801.0 0.307\\ 7805.0 0.455\\ 7808.9 0.307\\ 7812.8 0.223\\ 7818.0 0.72\\ 7821.9 0.307\\ 7825.8 0.223\\ 7829.7 0.213\\
7833.7 0.286\\ 7837.6 0.434\\ 7841.5 0.286\\ 7845.4 0.381\\ 7849.3 0.76\\ 7853.2 0.455\\ 7857.1 0.52\\ 7861.1 0.328\\ 7866.3 0.57\\ 7870.2 0.307\\
7875.4 0.476\\ 7879.3 0.328\\ 7885.8 0.555\\ 7889.8 0.276\\ 7893.7 0.223\\ 7897.6 0.234\\ 7902.8 0.35\\ 7909.3 0.855\\ 7913.2 0.444\\ 7915.9 0.59\\
7919.8 0.244\\ 7923.7 0.307\\ 7928.9 0.486\\ 7932.8 0.265\\ 7936.7 0.234\\ 7940.6 0.223\\ 7945.9 0.265\\ 7949.8 0.307\\ 7960.2 0.745\\ 7964.1 0.265\\
7968.0 0.223\\ 7972.0 0.265\\ 7975.9 0.56\\ 7979.8 0.265\\ 7985.0 0.213\\ 7988.9 0.787\\ 7992.8 0.307\\ 7996.7 0.234\\ 8002.0 0.213\\ 8005.9 0.265\\
8009.8 0.455\\ 8013.7 0.265\\ 8017.6 0.265\\ 8021.5 0.676\\ 8025.5 0.265\\ 8029.4 0.223\\ 8035.9 0.213\\ 8041.1 0.218\\ 8045.0 0.307\\ 8047.6 0.38\\
8051.6 0.244\\ 8055.5 0.265\\ 8059.4 0.497\\ 8063.3 0.234\\ 8067.2 0.218\\ 8072.4 0.213\\ 8079.0 0.218\\ 8084.2 0.244\\ 8086.8 0.265\\ 8090.7 0.286\\
8093.3 0.234\\ 8098.5 0.36\\ 8102.5 0.255\\ 8106.4 0.223\\ 8112.9 0.213\\ 8120.7 0.215\\ 8128.6 0.223\\ 8132.5 0.255\\ 8135.1 0.27\\ 8139.0 0.244\\
8142.9 0.297\\ 8146.8 0.234\\ 8152.0 0.223\\ 8159.9 0.223\\ 8167.0 0.228\\ 8173.6 0.223\\ 8180.1 0.234\\ 8183.3 0.239\\ 8186.6 0.234\\ 8191.2 0.239\\
8196.4 0.223\\ 8206.2 0.223\\ 8216.0 0.228\\ 8222.5 0.239\\ 8229.0 0.236\\ 8236.8 0.253\\ 8242.1 0.234\\ 8249.9 0.228\\ 8258.4 0.221\\ 8264.9 0.223\\
8269.5 0.265\\ 8273.4 0.528\\ 8276.0 0.676\\ 8279.9 0.528\\ 8282.5 0.77\\ 8286.4 0.476\\ 8290.3 0.286\\ 8293.6 0.823\\ 8296.9 0.476\\ 8299.5 0.255\\
8302.1 0.265\\ 8306.0 0.465\\ 8309.9 0.255\\ 8313.8 0.244\\ 8319.0 0.234\\ 8324.3 0.223\\ 8329.5 0.265\\ 8334.7 0.634\\ 8338.0 1.3\\ 8341.2 1.3\\
8343.2 0.444\\ 8346.5 0.686\\ 8349.7 0.37\\ 8353.0 0.223\\ 8358.2 0.265\\ 8362.1 0.244\\ 8366.0 0.307\\ 8369.3 0.265\\ 8373.8 0.476\\ 8377.1 0.59\\
8380.4 0.286\\ 8384.3 0.223\\ 8388.2 0.244\\ 8392.1 0.476\\ 8394.1 1.4\\ 8397.3 0.476\\ 8400.6 0.223\\ 8405.2 0.244\\ 8410.4 0.634\\ 8414.3 0.265\\
8418.2 0.223\\ 8422.1 0.37\\ 8425.4 1.4\\ 8428.6 0.37\\ 8432.6 0.223\\ 8436.5 0.265\\ 8441.0 0.418\\ 8443.0 0.455\\ 8446.9 0.597\\ 8450.8 0.265\\
8454.7 0.476\\ 8458.0 1.4\\ 8461.3 1.4\\ 8463.9 0.286\\ 8467.8 0.244\\ 8471.7 0.218\\ 8476.9 0.218\\ 8482.1 0.223\\ 8485.4 0.265\\ 8488.0 0.497\\
8491.3 0.265\\ 8495.2 0.265\\ 8499.8 0.67\\ 8503.0 0.265\\ 8506.9 0.223\\ 8510.9 0.218\\ 8516.1 0.228\\ 8521.3 0.218\\ 8526.5 0.223\\ 8530.4 0.265\\
8533.7 0.36\\ 8537.0 0.223\\ 8540.9 0.318\\ 8543.5 0.465\\ 8547.4 0.223\\ 8553.9 0.213\\ 8561.7 0.215\\ 8568.3 0.228\\ 8574.8 0.218\\ 8578.7 0.244\\
8581.3 0.30\\ 8584.6 0.244\\ 8587.8 0.265\\ 8591.8 0.336\\ 8595.7 0.244\\ 8600.9 0.223\\ 8604.8 0.234\\ 8608.7 0.307\\ 8613.9 0.455\\ 8619.2 0.55\\
8624.4 0.58\\ 8629.6 0.55\\ 8634.8 0.455\\ 8640.0 0.339\\ 8643.9 0.413\\ 8647.9 0.528\\ 8651.8 0.565\\ 8656.3 0.57\\ 8659.6 0.544\\ 8663.5 0.465\\
8668.7 0.392\\ 8672.7 0.339\\ 8677.9 0.297\\ 8682.4 0.276\\ 8685.7 0.26\\ 8689.6 0.265\\ 8693.5 0.255\\ 8697.4 0.26\\ 8702.7 0.249\\ 8706.6 0.244\\
8711.8 0.228\\ 8718.3 0.223\\ 8724.8 0.223\\ 8729.4 0.26\\ 8731.4 0.234\\ 8737.9 0.234\\ 8743.1 0.223\\ 8747.7 0.234\\ 8750.5 0.33\\ 8752.8 1.4\\
8755.0 1.4\\ 8757.8 0.74\\ 8760.5 1.4\\ 8763.5 0.95\\ 8766.5 1.4\\ 8770.0 0.50\\ 8773.0 0.244\\ 8778.5 0.26\\ 8781.0 0.265\\ 8784.9 0.597\\
8788.8 0.307\\ 8792.7 0.244\\ 8796.6 0.234\\ 8800.5 0.255\\ 8803.1 0.276\\ 8807.1 0.244\\ 8811.0 0.244\\ 8814.9 0.265\\ 8818.8 0.686\\ 8821.4 1.4\\
8824.0 0.54\\ 8826.6 1.4\\ 8829.2 1.4\\ 8831.8 0.58\\ 8835.8 0.265\\ 8839.7 0.244\\ 8844.2 0.54\\ 8847.5 0.286\\ 8851.4 0.244\\ 8856.6 0.244\\
8859.2 0.528\\ 8861.9 0.745\\ 8865.8 0.265\\ 8871.0 0.244\\ 8876.2 0.265\\ 8879.5 1.4\\ 8882.7 0.58\\ 8886.0 0.265\\ 8889.3 0.265\\ 8893.2 0.476\\
8896.4 0.823\\ 8899.7 0.476\\ 8903.0 0.265\\ 8906.2 0.244\\ 8909.5 0.476\\ 8912.7 1.4\\ 8916.0 0.476\\ 8919.3 0.244\\ 8924.5 0.244\\ 8928.4 0.476\\
8932.3 0.65\\ 8936.9 0.78\\ 8940.1 0.265\\ 8944.1 0.244\\ 8948.0 0.318\\ 8951.9 1.4\\ 8954.5 0.423\\ 8958.4 0.286\\ 8962.3 0.265\\ 8966.2 0.292\\
8970.1 0.265\\ 8974.1 0.297\\ 8978.0 0.276\\ 8981.9 0.745\\ 8985.8 0.286\\ 8989.7 0.297\\ 8993.6 1.4\\ 8996.9 0.276\\ 9002.1 0.255\\ 9006.7 0.265\\
9011.9 0.265\\ 9015.8 0.255\\ 9019.7 0.276\\ 9024.9 0.265\\ 9028.9 0.276\\ 9032.1 0.507\\ 9035.4 0.265\\ 9039.3 0.307\\ 9043.2 0.67\\ 9047.1 0.37\\
9051.1 0.286\\ 9055.0 0.265\\ 9058.9 0.276\\ 9062.8 0.286\\ 9066.7 0.255\\ 9071.9 0.265\\ 9077.1 0.265\\ 9082.4 0.276\\ 9086.3 0.423\\ 9088.9 0.286\\
9092.8 0.276\\ 9096.7 0.497\\ 9100.0 0.286\\ 9104.5 0.265\\ 9111.1 0.26\\ 9117.6 0.26\\ 9124.1 0.265\\ 9129.3 0.27\\ 9134.6 0.265\\ 9139.8 0.276\\
9143.7 0.407\\ 9147.6 0.323\\ 9151.5 0.413\\ 9155.4 0.286\\ 9160.7 0.265\\ 9167.2 0.267\\ 9173.7 0.265\\ 9181.5 0.26\\ 9191.3 0.265\\ 9201.1 0.27\\
9206.3 0.286\\ 9210.2 0.35\\ 9214.1 0.307\\ 9218.1 0.37\\ 9222.0 0.286\\ 9227.2 0.276\\ 9233.7 0.276\\ 9241.5 0.307\\ 9245.5 0.318\\ 9249.4 0.286\\
9253.3 0.265\\ 9257.2 0.502\\ 9261.1 0.307\\ 9265.0 0.276\\ 9270.3 0.276\\ 9275.5 0.297\\ 9279.4 0.37\\ 9283.3 0.344\\ 9287.2 0.383\\ 9291.1 0.35\\
9294.4 0.323\\ 9298.8 0.37\\
}\skytab

\begin{document}
\begin{tikzpicture}
\useasboundingbox (-135bp,-35.64bp) rectangle (945bp,288.36bp);
\begin{axis}[
  at={(0,0)}, anchor=south west, scale only axis,
  width=837bp, height=249.48bp,
  xmin=4748.3, xmax=9299, ymin=-0.732, ymax=0.879,
  axis line style={line width=0.9bp},
  tick align=outside, xtick pos=bottom, ytick pos=left,
  major tick length=5bp,
  every tick/.style={black, line width=0.9bp},
  xtick={5000,6000,7000,8000,9000},
  xticklabels={5000,6000,7000,8000,9000},
  ytick={-0.6,-0.4,-0.2,0,0.2,0.4,0.6,0.8},
  yticklabels={−0.6,−0.4,−0.2,0.0,0.2,0.4,0.6,0.8},
  xticklabel style={font=\fontsize{9.9}{12}\selectfont, anchor=base, inner sep=0pt, yshift=-13.4bp},
  yticklabel style={font=\fontsize{12.6}{15}\selectfont, anchor=east, inner sep=0pt, xshift=-5.2bp},
  title={Spectrum of object 29990 in candels-cdfs-25},
  title style={at={(axis description cs:0.5,1.017)}, anchor=base, inner sep=0pt, font=\fontsize{18}{21}\selectfont},
  xlabel={Wavelength},
  xlabel style={at={(axis description cs:0.5,-0.12426)}, anchor=base, inner sep=0pt, font=\fontsize{11.8}{14}\selectfont},
  ylabel={10\textsuperscript{−18} erg s\textsuperscript{−1} cm\textsuperscript{−2} Å\textsuperscript{−1}},
  ylabel style={at={(axis description cs:-0.05806,0.5)}, anchor=south, rotate=0, inner sep=0pt, font=\fontsize{16.1}{19}\selectfont},
  clip=true,
]
\addplot[mplgreen, line width=0.5bp, line join=round] table[x=x,y=y] {\skytab};
\addplot[mplblue, line width=1.8bp] coordinates {(4748.3,0) (9299,0)};
\addplot[black, line width=1.5bp, line join=round] table[x=x,y=y] {\fluxtab};
\end{axis}
\end{tikzpicture}
\end{document}
